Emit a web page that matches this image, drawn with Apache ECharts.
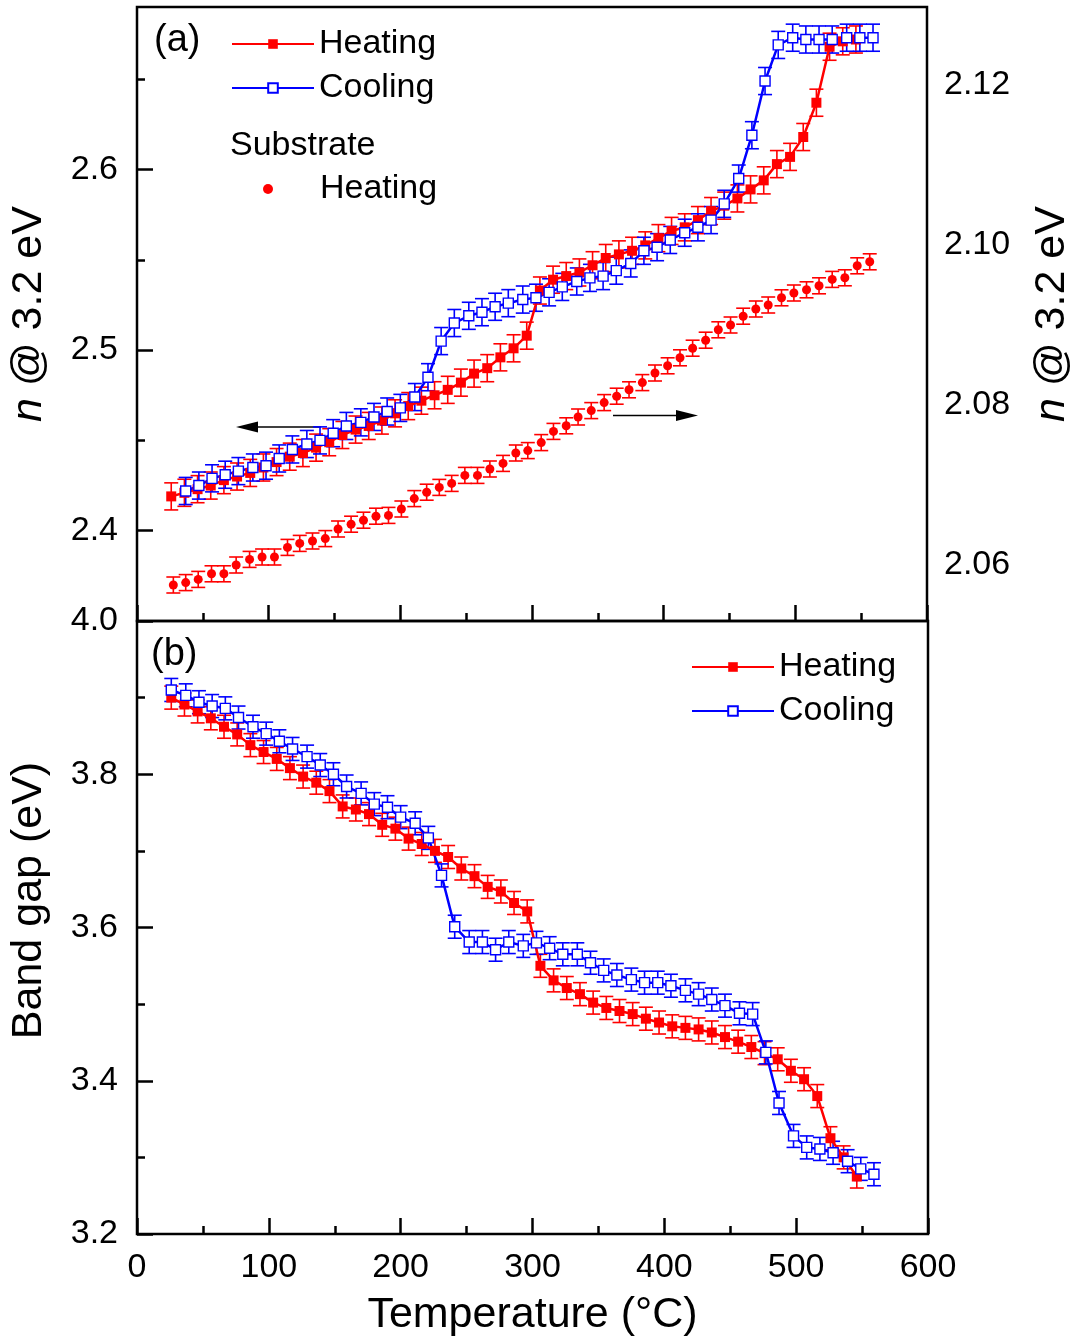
<!DOCTYPE html>
<html><head><meta charset="utf-8">
<script src="https://cdn.jsdelivr.net/npm/echarts@6/dist/echarts.min.js"></script>
<style>html,body{margin:0;padding:0;background:#fff}#c{width:1082px;height:1344px}</style>
</head><body><div id="c"></div>
<script>
// ---- data ----
const heatX = [26,36,46,56,66,76,86,96,106,116,126,136,146,156,166,176,186,196,206,216,226,236,246,256,266,276,286,296,306,316,326,336,346,356,366,376,386,396,406,416,426,436,446,456,466,476,486,496,506,516,526,536,546];
const heatN = [2.419,2.421,2.423,2.425,2.428,2.430,2.432,2.435,2.438,2.441,
  2.443,2.446,2.449,2.453,2.456,2.458,2.461,2.465,2.469,2.472,
  2.475,2.478,2.482,2.487,2.490,2.496,2.501,2.508,2.533,2.539,
  2.541,2.543,2.547,2.551,2.553,2.555,2.558,2.562,2.566,2.568,
  2.572,2.577,2.580,2.584,2.589,2.594,2.603,2.607,2.618,2.637,
  2.668,2.671,2.672];
const heatGap = [3.900,3.891,3.882,3.873,3.862,3.852,3.838,3.829,3.820,3.808,
  3.797,3.789,3.778,3.758,3.754,3.748,3.734,3.729,3.716,3.709,
  3.700,3.692,3.677,3.667,3.653,3.647,3.632,3.621,3.550,3.531,
  3.521,3.513,3.502,3.495,3.491,3.487,3.481,3.476,3.471,3.469,
  3.467,3.463,3.457,3.451,3.444,3.436,3.428,3.413,3.402,3.380,
  3.325,3.300,3.275];
// cooling, panel (a)
const coolNX = [37,47,57,67,77,88,98,108,118,129,139,149,159,170,180,190,200,211,221,231,241,252,262,272,282,293,303,313,323,334,344,354,364,375,385,395,405,416,426,436,446,457,467,477,487,498,508,518,528,539,549,559];
const coolN = [2.422,2.425,2.429,2.431,2.433,2.435,2.436,2.440,2.445,
  2.448,2.450,2.454,2.458,2.460,2.463,2.466,2.468,2.474,2.485,
  2.505,2.515,2.519,2.521,2.524,2.526,2.528,2.529,2.532,2.535,
  2.538,2.540,2.541,2.544,2.548,2.555,2.557,2.561,2.565,2.568,
  2.572,2.581,2.595,2.619,2.649,2.669,2.673,2.672,2.672,2.672,
  2.673,2.673,2.673];
// cooling, panel (b)
const coolX = [26,37,47,57,67,77,88,98,108,118,129,139,149,159,170,180,190,200,211,221,231,241,252,262,272,282,293,303,313,323,334,344,354,364,375,385,395,405,416,426,436,446,457,467,477,487,498,508,518,528,539,549,559];
const coolGap = [3.910,3.903,3.894,3.889,3.886,3.874,3.862,3.853,3.843,3.833,
  3.823,3.812,3.800,3.784,3.775,3.761,3.757,3.744,3.736,3.717,
  3.668,3.601,3.581,3.581,3.571,3.581,3.576,3.580,3.573,3.565,
  3.565,3.554,3.544,3.538,3.532,3.528,3.528,3.524,3.518,3.513,
  3.506,3.498,3.488,3.487,3.437,3.371,3.328,3.313,3.311,3.306,
  3.295,3.285,3.278];
const subX = [27.6,37,46.5,56.6,66,75.3,85.5,95,104.4,114.3,123.6,133.3,143,152.7,162.6,172,181.5,191,200.8,210.6,220,229.6,239,249,258.6,268,278,287.7,296.8,307,316.3,326,335,345,354.8,364.3,373.7,383.8,393.4,403,412.4,422,431.9,441.5,450.8,460.4,470,479.4,489.5,498.9,508.5,518,528,537.6,547,556.5];
const subN = [2.0575,2.0578,2.0582,2.0589,2.0589,2.0600,2.0607,2.0610,2.0610,2.0622,
  2.0627,2.0630,2.0633,2.0645,2.0651,2.0656,2.0661,2.0662,2.0670,2.0683,
  2.0691,2.0697,2.0702,2.0712,2.0712,2.0720,2.0727,2.0740,2.0743,2.0753,
  2.0767,2.0774,2.0785,2.0793,2.0803,2.0811,2.0819,2.0828,2.0840,2.0849,
  2.0859,2.0871,2.0881,2.0894,2.0900,2.0911,2.0920,2.0925,2.0934,2.0940,
  2.0944,2.0949,2.0957,2.0959,2.0974,2.0979];
const nErr = 0.0075, subErr = 0.001, gapErr = 0.015;
const leftMajor = [2.4, 2.5, 2.6];
const leftMinor = [2.35, 2.45, 2.55, 2.65];
const rightTicks = [2.06, 2.08, 2.10, 2.12];

// ---- helpers ----
const FONT = "'Liberation Sans', Arial, sans-serif";
const RED = '#ff0000', BLUE = '#0000ff';
const pairs = (xs, ys) => xs.map((x, i) => [x, ys[i]]);
const errs = (xs, ys, e) => xs.map((x, i) => [x, ys[i] - e, ys[i] + e]);
function errRender(color, capW) {
  return function (params, api) {
    const x = api.value(0), lo = api.value(1), hi = api.value(2);
    const p1 = api.coord([x, lo]), p2 = api.coord([x, hi]);
    const s = { stroke: color, lineWidth: 1.6 };
    return { type: 'group', children: [
      { type: 'line', shape: { x1: p1[0], y1: p1[1], x2: p2[0], y2: p2[1] }, style: s },
      { type: 'line', shape: { x1: p1[0] - capW / 2, y1: p1[1], x2: p1[0] + capW / 2, y2: p1[1] }, style: s },
      { type: 'line', shape: { x1: p2[0] - capW / 2, y1: p2[1], x2: p2[0] + capW / 2, y2: p2[1] }, style: s }
    ]};
  };
}
function errSeries(name, data, color, xi, yi) {
  return { name: name, type: 'custom', xAxisIndex: xi, yAxisIndex: yi, data: data,
    renderItem: errRender(color, 14), encode: { x: 0, y: [1, 2] }, silent: true, clip: false };
}
const tickStyle = { color: '#000', width: 2.5 };
const labelStyle = { color: '#000', fontSize: 34, fontFamily: FONT };
const nameStyle = { color: '#000', fontSize: 43, fontFamily: FONT,
  rich: { it: { fontStyle: 'italic', fontSize: 43, fontFamily: FONT, color: '#000' } } };
const legendNames = { 'Heating': 'Heating', 'Cooling': 'Cooling', 'sHeating': 'Heating', 'bHeating': 'Heating', 'bCooling': 'Cooling' };
const legText = { color: '#000', fontSize: 34, fontFamily: FONT, lineHeight: 34 };

const chart = echarts.init(document.getElementById('c'), null, { renderer: 'canvas' });
chart.setOption({
  animation: false,
  backgroundColor: '#fff',
  grid: [
    { left: 137, top: 7, width: 791, height: 614, show: true, borderColor: '#000', borderWidth: 2.5, backgroundColor: 'transparent' },
    { left: 137, top: 621, width: 791, height: 613, show: true, borderColor: '#000', borderWidth: 2.5, backgroundColor: 'transparent' }
  ],
  xAxis: [
    { gridIndex: 0, type: 'value', min: 0, max: 600, interval: 100,
      axisLine: { show: false }, splitLine: { show: false },
      axisTick: { inside: true, length: 16, lineStyle: tickStyle },
      minorTick: { show: true, splitNumber: 2, length: 8, lineStyle: tickStyle },
      axisLabel: { show: false } },
    { gridIndex: 1, type: 'value', min: 0, max: 600, interval: 100,
      axisLine: { show: false }, splitLine: { show: false },
      axisTick: { inside: true, length: 16, lineStyle: tickStyle },
      minorTick: { show: true, splitNumber: 2, length: 8, lineStyle: tickStyle },
      axisLabel: Object.assign({ margin: 17 }, labelStyle),
      name: 'Temperature (°C)', nameLocation: 'middle', nameGap: 60, nameTextStyle: nameStyle }
  ],
  yAxis: [
    { gridIndex: 0, type: 'value', position: 'left', min: 2.35, max: 2.69,
      axisLine: { show: false }, splitLine: { show: false },
      axisTick: { inside: true, length: 16, lineStyle: tickStyle, customValues: leftMajor },
      axisLabel: Object.assign({ margin: 19, customValues: leftMajor, formatter: v => v.toFixed(1) }, labelStyle),
      name: '{it|n} @ 3.2 eV', nameLocation: 'middle', nameRotate: 90, nameGap: 86, nameTextStyle: nameStyle },
    { gridIndex: 0, type: 'value', position: 'left', min: 2.35, max: 2.69,
      axisLine: { show: false }, splitLine: { show: false },
      axisTick: { inside: true, length: 8, lineStyle: tickStyle, customValues: leftMinor },
      axisLabel: { show: false } },
    { gridIndex: 0, type: 'value', position: 'right', min: 2.053, max: 2.12975,
      axisLine: { show: false }, splitLine: { show: false },
      axisTick: { show: false },
      axisLabel: Object.assign({ margin: 17, customValues: rightTicks, formatter: v => v.toFixed(2) }, labelStyle),
      name: '{it|n} @ 3.2 eV', nameLocation: 'middle', nameRotate: 90, nameGap: 104, nameTextStyle: nameStyle },
    { gridIndex: 1, type: 'value', position: 'left', min: 3.2, max: 4.0, interval: 0.2,
      axisLine: { show: false }, splitLine: { show: false },
      axisTick: { inside: true, length: 16, lineStyle: tickStyle },
      minorTick: { show: true, splitNumber: 2, length: 8, lineStyle: tickStyle },
      axisLabel: Object.assign({ margin: 19, formatter: v => v.toFixed(1) }, labelStyle),
      name: 'Band gap (eV)', nameLocation: 'middle', nameRotate: 90, nameGap: 86,
      nameTextStyle: Object.assign({ padding: [0, 0, 0, 54] }, nameStyle) }
  ],
  legend: [
    { data: ['Heating', 'Cooling'], orient: 'vertical', left: 226, top: 22, itemWidth: 82, itemHeight: 12, itemGap: 10,
      formatter: n => legendNames[n], selectedMode: false, textStyle: legText },
    { data: ['sHeating'], orient: 'vertical', left: 258, top: 167, itemWidth: 10, itemHeight: 10,
      formatter: n => legendNames[n], selectedMode: false,
      textStyle: Object.assign({ padding: [0, 0, 0, 42] }, legText) },
    { data: ['bHeating', 'bCooling'], orient: 'vertical', left: 686, top: 645, itemWidth: 82, itemHeight: 12, itemGap: 10,
      formatter: n => legendNames[n], selectedMode: false, textStyle: legText }
  ],
  graphic: [
    { type: 'text', left: 154, top: 22, style: { text: '(a)', fontSize: 38, fontFamily: FONT, fill: '#000' } },
    { type: 'text', left: 151, top: 636, style: { text: '(b)', fontSize: 38, fontFamily: FONT, fill: '#000' } },
    { type: 'text', left: 230, top: 129, style: { text: 'Substrate', fontSize: 34, fontFamily: FONT, fill: '#000' } },
    { type: 'line', shape: { x1: 256, y1: 427, x2: 321, y2: 427 }, style: { stroke: '#000', lineWidth: 1.5 } },
    { type: 'polygon', shape: { points: [[236, 427], [258, 421.5], [258, 432.5]] }, style: { fill: '#000' } },
    { type: 'line', shape: { x1: 613, y1: 415.5, x2: 678, y2: 415.5 }, style: { stroke: '#000', lineWidth: 1.5 } },
    { type: 'polygon', shape: { points: [[698, 415.5], [676, 410], [676, 421]] }, style: { fill: '#000' } }
  ],
  series: [
    errSeries('eSub', errs(subX, subN, subErr), RED, 0, 2),
    { name: 'sHeating', type: 'scatter', xAxisIndex: 0, yAxisIndex: 2, data: pairs(subX, subN),
      symbol: 'circle', symbolSize: 9, itemStyle: { color: RED, opacity: 1 } },

    errSeries('eHeat', errs(heatX, heatN, nErr), RED, 0, 0),
    { name: 'Heating', type: 'line', xAxisIndex: 0, yAxisIndex: 0, data: pairs(heatX, heatN),
      symbol: 'rect', symbolSize: 10, showAllSymbol: true,
      lineStyle: { color: RED, width: 2.5 }, itemStyle: { color: RED } },
    errSeries('eCool', errs(coolNX, coolN, nErr), BLUE, 0, 0),
    { name: 'Cooling', type: 'line', xAxisIndex: 0, yAxisIndex: 0, data: pairs(coolNX, coolN),
      symbol: 'rect', symbolSize: 10, showAllSymbol: true,
      lineStyle: { color: BLUE, width: 2.5 }, itemStyle: { color: '#fff', borderColor: BLUE, borderWidth: 1.4 } },

    errSeries('ebHeat', errs(heatX, heatGap, gapErr), RED, 1, 3),
    { name: 'bHeating', type: 'line', xAxisIndex: 1, yAxisIndex: 3, data: pairs(heatX, heatGap),
      symbol: 'rect', symbolSize: 10, showAllSymbol: true,
      lineStyle: { color: RED, width: 2.5 }, itemStyle: { color: RED } },
    errSeries('ebCool', errs(coolX, coolGap, gapErr), BLUE, 1, 3),
    { name: 'bCooling', type: 'line', xAxisIndex: 1, yAxisIndex: 3, data: pairs(coolX, coolGap),
      symbol: 'rect', symbolSize: 10, showAllSymbol: true,
      lineStyle: { color: BLUE, width: 2.5 }, itemStyle: { color: '#fff', borderColor: BLUE, borderWidth: 1.4 } }
  ]
});
</script>
</body></html>
